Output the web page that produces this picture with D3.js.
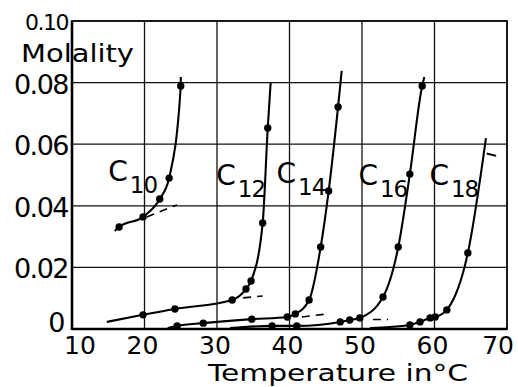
<!DOCTYPE html>
<html>
<head>
<meta charset="utf-8">
<script src="https://cdn.jsdelivr.net/npm/d3@7"></script>
<style>
  body { margin: 0; background: #fff; }
  svg { display: block; font-family: "DejaVu Sans", sans-serif; }
  .grid line { stroke: #111; stroke-width: 1.3; }
  .curve { fill: none; stroke: #000; stroke-width: 2.1; }
  .dash { fill: none; stroke: #000; stroke-width: 1.6; stroke-dasharray: 8 6; }
</style>
</head>
<body>
<svg id="chart" width="518" height="387"></svg>
<script>
// axis ticks
const xTicks = [10, 20, 30, 40, 50, 60, 70];
const yTicks = [0, 0.02, 0.04, 0.06, 0.08, 0.10];
const yTickLabels = ["0", "0.02", "0.04", "0.06", "0.08", "0.10"];

// measured points (temperature °C, molality) for each chain length
const c10Points = [[16.5, 0.0331], [19.8, 0.0364], [22.1, 0.0422], [23.4, 0.0490], [25.0, 0.0789]];
const c12Points = [[19.8, 0.0046], [24.2, 0.0065], [32.1, 0.0094], [34.0, 0.0130], [34.7, 0.0156], [36.3, 0.0344], [37.0, 0.0653]];
const c14Points = [[24.5, 0.0010], [28.1, 0.0019], [34.8, 0.0032], [39.7, 0.0039], [40.8, 0.0049], [42.7, 0.0094], [44.3, 0.0266], [45.4, 0.0448], [46.7, 0.0721]];
const c16Points = [[37.6, 0.0010], [41.0, 0.0010], [47.0, 0.0023], [48.3, 0.0029], [49.7, 0.0036], [52.9, 0.0104], [55.0, 0.0266], [56.6, 0.0503], [58.3, 0.0789]];
const c18Points = [[56.6, 0.0013], [58.0, 0.0023], [59.4, 0.0036], [60.1, 0.0039], [61.7, 0.0062], [64.6, 0.0247]];

// where each drawn curve starts and ends beyond the points
const c10Ends = [[15.9, 0.0318], [25.0, 0.0818]];
const c12Ends = [[14.8, 0.0023], [37.4, 0.0800]];
const c14Ends = [[23.2, 0.0003], [47.2, 0.0838]];
const c16Ends = [[31.8, 0.0003], [58.6, 0.0818]];
const c18Ends = [[51.1, 0.0003], [67.1, 0.0620]];

// dashed extrapolations of the low branches
const c10Dash = [[20.3, 0.0364], [24.5, 0.0403]];
const c12Dash = [[33.6, 0.0101], [36.3, 0.0107]];
const c14Dash = [[41.7, 0.0039], [45.2, 0.0049]];
const c16Dash = [[51.5, 0.0031], [53.6, 0.0031]];

const seriesNames = ["10", "12", "14", "16", "18"];
// label anchors, in data units
const labelAt = [[15.0, 0.0480], [29.9, 0.0468], [38.2, 0.0474], [49.5, 0.0468], [59.3, 0.0468]];

const width = 518, height = 387;
const svg = d3.select("#chart");

const x = d3.scaleLinear().domain([10, 70]).range([72, 507]);
const y = d3.scaleLinear().domain([0, 0.10]).range([329, 21]);

// grid
const grid = svg.append("g").attr("class", "grid");
grid.selectAll(".gx")
  .data(xTicks.slice(1, -1))
  .join("line")
  .attr("x1", d => x(d)).attr("x2", d => x(d))
  .attr("y1", y(0.10)).attr("y2", y(0));
grid.selectAll(".gy")
  .data(yTicks.slice(1, -1))
  .join("line")
  .attr("x1", x(10)).attr("x2", x(70))
  .attr("y1", d => y(d)).attr("y2", d => y(d));

// frame
svg.append("rect")
  .attr("x", x(10)).attr("y", y(0.10))
  .attr("width", x(70) - x(10)).attr("height", y(0) - y(0.10))
  .attr("fill", "none").attr("stroke", "#000").attr("stroke-width", 1.8);
svg.append("line")
  .attr("x1", x(10)).attr("x2", x(10))
  .attr("y1", y(0.10)).attr("y2", y(0) + 1)
  .attr("stroke", "#000").attr("stroke-width", 2.6);
svg.append("line")
  .attr("x1", x(10)).attr("x2", x(70))
  .attr("y1", y(0)).attr("y2", y(0))
  .attr("stroke", "#000").attr("stroke-width", 2.4);

// curves
const line = d3.line()
  .x(d => x(d[0]))
  .y(d => y(d[1]))
  .curve(d3.curveMonotoneX);

const allPoints = [c10Points, c12Points, c14Points, c16Points, c18Points];
const allEnds = [c10Ends, c12Ends, c14Ends, c16Ends, c18Ends];
const allDash = [c10Dash, c12Dash, c14Dash, c16Dash];

allPoints.forEach((pts, i) => {
  const ends = allEnds[i];
  svg.append("path")
    .attr("class", "curve")
    .attr("d", line([ends[0], ...pts, ends[1]]));
  svg.append("g")
    .selectAll("circle")
    .data(pts)
    .join("circle")
    .attr("cx", d => x(d[0]))
    .attr("cy", d => y(d[1]))
    .attr("r", 3.7)
    .attr("fill", "#000");
});

allDash.forEach(seg => {
  svg.append("path")
    .attr("class", "dash")
    .attr("d", d3.line().x(d => x(d[0])).y(d => y(d[1]))(seg));
});

// small stray tick near the top of C18
svg.append("path")
  .attr("fill", "none").attr("stroke", "#000").attr("stroke-width", 2)
  .attr("d", d3.line().x(d => x(d[0])).y(d => y(d[1]))([[67.2, 0.0570], [68.5, 0.0562]]));

// chain labels
seriesNames.forEach((n, i) => {
  const [lx, ly] = labelAt[i];
  const t = svg.append("text")
    .attr("x", x(lx)).attr("y", y(ly))
    .attr("font-size", 28);
  t.append("tspan").text("C");
  t.append("tspan")
    .attr("dx", 2).attr("dy", 12)
    .attr("font-size", 23)
    .attr("letter-spacing", -1)
    .text(n);
});

// y tick labels
svg.append("g")
  .selectAll("text")
  .data(yTicks)
  .join("text")
  .attr("x", d => d === 0 ? 64 : 68)
  .attr("y", d => y(d) + (d === 0 ? 3 : d === 0.10 ? 9 : 11))
  .attr("text-anchor", "end")
  .attr("font-size", d => d === 0.10 ? 22 : 27)
  .attr("letter-spacing", -1.5)
  .text((d, i) => yTickLabels[i]);

svg.append("text")
  .attr("x", 21).attr("y", 62)
  .attr("font-size", 25)
  .attr("font-weight", 500)
  .attr("textLength", 113)
  .attr("lengthAdjust", "spacingAndGlyphs")
  .text("Molality");

// x tick labels
svg.append("g")
  .selectAll("text")
  .data(xTicks)
  .join("text")
  .attr("x", d => d === 70 ? 514 : d === 10 ? 64 : x(d) - 2)
  .attr("y", y(0) + 25)
  .attr("text-anchor", d => d === 70 ? "end" : d === 10 ? "start" : "middle")
  .attr("font-size", 25)
  .text(d => d);

svg.append("text")
  .attr("x", 208).attr("y", 381)
  .attr("font-size", 23.5)
  .attr("textLength", 260)
  .attr("lengthAdjust", "spacingAndGlyphs")
  .text("Temperature in°C");
</script>
</body>
</html>
